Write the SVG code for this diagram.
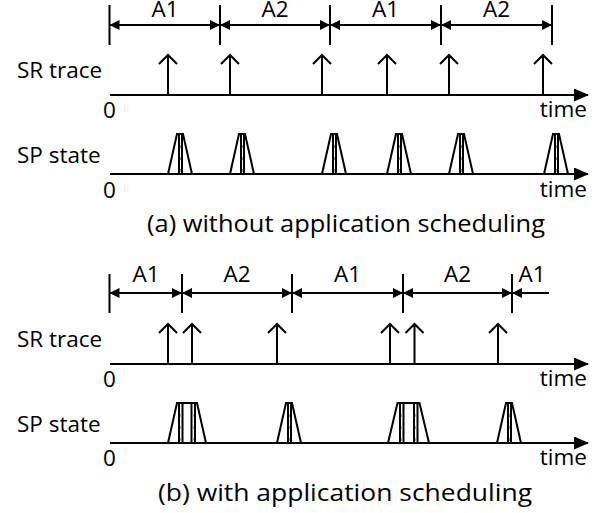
<svg xmlns="http://www.w3.org/2000/svg" xmlns:xlink="http://www.w3.org/1999/xlink" width="607" height="513" viewBox="0 0 607 513">
<style>
  .ln{stroke:#000;stroke-width:2;fill:none}
  .tx{font-family:"Open Sans","Liberation Sans",sans-serif;font-size:22.5px;fill:#000}
  .cap{font-family:"Open Sans","Liberation Sans",sans-serif;font-size:24px;fill:#000}
  .hatch{stroke:#999;stroke-width:1;stroke-dasharray:3 9;fill:none}
</style>
<defs>
  <marker id="dim" markerUnits="userSpaceOnUse" markerWidth="10" markerHeight="10" refX="10" refY="5" orient="auto-start-reverse" viewBox="0 0 10 10">
    <path d="M0,0 L10,5 L0,10 z" fill="#000"/>
  </marker>
  <marker id="ax" markerUnits="userSpaceOnUse" markerWidth="15" markerHeight="13" refX="14" refY="6.5" orient="auto" viewBox="0 0 15 13">
    <path d="M0,0 L15,6.5 L0,13 z" fill="#000"/>
  </marker>
  <path id="up" class="ln" d="M0,0 V-40 M-9,-31 L0,-40 L9,-31"/>
  <g id="trap">
    <path class="ln" d="M0,0 L9,-40 H15 L24,0 M11,0 V-40 M14,0 V-40"/>
    <path class="hatch" d="M12.5,-2 V-38"/>
  </g>
</defs>

<g id="panel-a">
  <g id="a-dim">
    <path class="ln" d="M109.5,5 V45 M220,5 V45 M330,5 V45 M441,5 V45 M552,5 V45"/>
    <line class="ln" x1="109.5" y1="25" x2="220" y2="25" marker-start="url(#dim)" marker-end="url(#dim)"/>
    <line class="ln" x1="220" y1="25" x2="330" y2="25" marker-start="url(#dim)" marker-end="url(#dim)"/>
    <line class="ln" x1="330" y1="25" x2="441" y2="25" marker-start="url(#dim)" marker-end="url(#dim)"/>
    <line class="ln" x1="441" y1="25" x2="552" y2="25" marker-start="url(#dim)" marker-end="url(#dim)"/>
    <g class="tx" text-anchor="middle">
      <text x="165" y="16.5">A1</text>
      <text x="275" y="16.5">A2</text>
      <text x="385.5" y="16.5">A1</text>
      <text x="496.5" y="16.5">A2</text>
    </g>
  </g>
  <g id="a-sr">
    <text class="tx" x="17" y="78">SR trace</text>
    <line class="ln" x1="110" y1="95" x2="588" y2="95" marker-end="url(#ax)"/>
    <text class="tx" x="103" y="118">0</text>
    <text class="tx" x="587" y="117" text-anchor="end">time</text>
    <use xlink:href="#up" x="168" y="95"/>
    <use xlink:href="#up" x="230" y="95"/>
    <use xlink:href="#up" x="322" y="95"/>
    <use xlink:href="#up" x="387" y="95"/>
    <use xlink:href="#up" x="449" y="95"/>
    <use xlink:href="#up" x="543" y="95"/>
  </g>
  <g id="a-sp">
    <text class="tx" x="17" y="163">SP state</text>
    <line class="ln" x1="110" y1="174" x2="588" y2="174" marker-end="url(#ax)"/>
    <text class="tx" x="103" y="198">0</text>
    <text class="tx" x="587" y="197" text-anchor="end">time</text>
    <use xlink:href="#trap" x="168" y="174"/>
    <use xlink:href="#trap" x="230" y="174"/>
    <use xlink:href="#trap" x="322" y="174"/>
    <use xlink:href="#trap" x="387" y="174"/>
    <use xlink:href="#trap" x="449" y="174"/>
    <use xlink:href="#trap" x="544" y="174"/>
  </g>
  <text class="cap" x="147" y="232" textLength="398" lengthAdjust="spacingAndGlyphs">(a) without application scheduling</text>
</g>

<g id="panel-b">
  <g id="b-dim">
    <path class="ln" d="M109.5,274 V313 M182,274 V313 M292,274 V313 M403,274 V313 M512,274 V313"/>
    <line class="ln" x1="109.5" y1="293" x2="182" y2="293" marker-start="url(#dim)" marker-end="url(#dim)"/>
    <line class="ln" x1="182" y1="293" x2="292" y2="293" marker-start="url(#dim)" marker-end="url(#dim)"/>
    <line class="ln" x1="292" y1="293" x2="403" y2="293" marker-start="url(#dim)" marker-end="url(#dim)"/>
    <line class="ln" x1="403" y1="293" x2="512" y2="293" marker-start="url(#dim)" marker-end="url(#dim)"/>
    <line class="ln" x1="512" y1="293" x2="549" y2="293" marker-start="url(#dim)"/>
    <g class="tx" text-anchor="middle">
      <text x="146" y="282">A1</text>
      <text x="237" y="282">A2</text>
      <text x="347.5" y="282">A1</text>
      <text x="457.5" y="282">A2</text>
      <text x="532" y="282">A1</text>
    </g>
  </g>
  <g id="b-sr">
    <text class="tx" x="17" y="347">SR trace</text>
    <line class="ln" x1="110" y1="364" x2="588" y2="364" marker-end="url(#ax)"/>
    <text class="tx" x="103" y="387">0</text>
    <text class="tx" x="587" y="386" text-anchor="end">time</text>
    <use xlink:href="#up" x="168" y="364"/>
    <use xlink:href="#up" x="192" y="364"/>
    <use xlink:href="#up" x="277" y="364"/>
    <use xlink:href="#up" x="390" y="364"/>
    <use xlink:href="#up" x="414.5" y="364"/>
    <use xlink:href="#up" x="498" y="364"/>
  </g>
  <g id="b-sp">
    <text class="tx" x="17" y="432">SP state</text>
    <line class="ln" x1="110" y1="443" x2="588" y2="443" marker-end="url(#ax)"/>
    <text class="tx" x="103" y="466">0</text>
    <text class="tx" x="587" y="465" text-anchor="end">time</text>
    <path class="ln" d="M168,443 L177,403 H197 L206,443 M179,443 V403 M182.5,443 V403 M191.5,443 V403 M195,443 V403"/>
    <path class="hatch" d="M180.7,441 V405 M193.2,441 V405"/>
    <use xlink:href="#trap" x="277" y="443"/>
    <path class="ln" d="M388,443 L397.5,403 H419.5 L429,443 M400,443 V403 M403.5,443 V403 M414,443 V403 M417.5,443 V403"/>
    <path class="hatch" d="M401.7,441 V405 M415.7,441 V405"/>
    <use xlink:href="#trap" x="497" y="443"/>
  </g>
  <text class="cap" x="158" y="501" textLength="374" lengthAdjust="spacingAndGlyphs">(b) with application scheduling</text>
</g>
</svg>
